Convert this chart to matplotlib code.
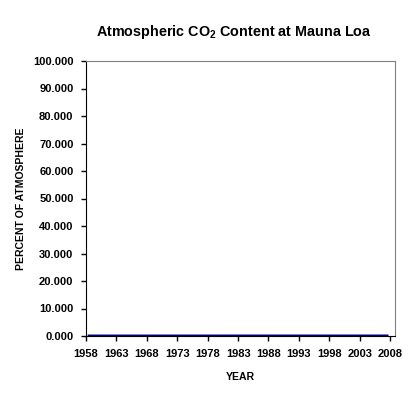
import numpy as np
import matplotlib
matplotlib.use("Agg")
import matplotlib.pyplot as plt
from matplotlib.ticker import FormatStrFormatter

plt.rcParams["font.family"] = ["Liberation Sans", "DejaVu Sans"]
plt.rcParams["font.weight"] = "bold"
plt.rcParams["mathtext.fontset"] = "custom"
plt.rcParams["mathtext.rm"] = "Liberation Sans:bold"
plt.rcParams["mathtext.it"] = "Liberation Sans:bold"
plt.rcParams["mathtext.bf"] = "Liberation Sans:bold"

# annual mean CO2 at Mauna Loa, ppm -> percent of atmosphere
years = list(range(1959, 2009))
co2_ppm = [315.97, 316.91, 317.64, 318.45, 318.99, 319.62, 320.04, 321.37, 322.18, 323.05,
           324.62, 325.68, 326.32, 327.46, 329.68, 330.19, 331.12, 332.03, 333.84, 335.41,
           336.84, 338.76, 340.12, 341.48, 343.15, 344.85, 346.35, 347.61, 349.31, 351.69,
           353.20, 354.45, 355.70, 356.54, 357.21, 358.96, 360.97, 362.74, 363.88, 366.84,
           368.54, 369.71, 371.32, 373.45, 375.98, 377.70, 379.98, 382.09, 384.02, 385.83]
co2_pct = np.array(co2_ppm) / 10000.0

x_ticks = list(range(1958, 2009, 5))
y_ticks = list(range(0, 101, 10))

fig = plt.figure(figsize=(4.10, 3.96), dpi=100)
ax = fig.add_axes([86 / 410, 1 - 336 / 396, 309 / 410, 275 / 396])

ax.plot(np.array(years) - 0.5, co2_pct, color="#000080", lw=2)

ax.set_xlim(1958, 2008.8)
ax.set_ylim(0, 100)
ax.set_xticks(x_ticks)
ax.set_yticks(y_ticks)
ax.yaxis.set_major_formatter(FormatStrFormatter("%.3f"))
ax.tick_params(labelsize=8, length=3.5, width=1, color="black")
ax.tick_params(axis="y", pad=5.5)
ax.tick_params(axis="x", pad=6)

for s in ["top", "right"]:
    ax.spines[s].set_color("#808080")
for s in ["left", "bottom"]:
    ax.spines[s].set_color("black")

ax.set_xlabel("YEAR", fontsize=7.5, fontweight="bold", labelpad=9)
ax.set_ylabel("PERCENT OF ATMOSPHERE", fontsize=7.5, fontweight="bold", labelpad=5)

fig.text(234 / 410, 1 - 32 / 396, r"Atmospheric CO$_2$ Content at Mauna Loa",
         ha="center", va="center", fontsize=10.4, fontweight="bold")

fig.savefig("out.png", dpi=100)
